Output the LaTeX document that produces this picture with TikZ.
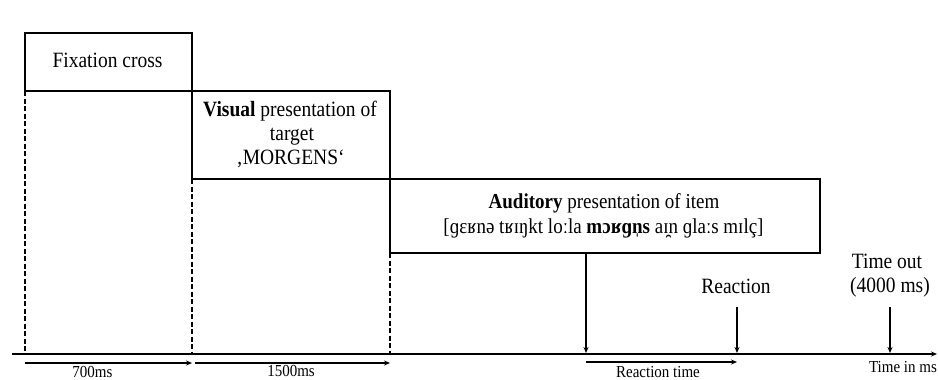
\documentclass[tikz,border=0pt]{standalone}
\usepackage{fontspec}
\usepackage{graphicx}
\setmainfont{Liberation Serif}
\usetikzlibrary{arrows.meta}
\newcommand\vst[1]{\scalebox{1}[1.12]{#1}}
\begin{document}
\begin{tikzpicture}[x=1pt,y=-1pt,
  box/.style={draw,line width=1.3pt},
  dashline/.style={draw,line width=1.4pt,dash pattern=on 5pt off 2.5pt},
  arr/.style={draw,line width=1.4pt,-{Stealth[length=6pt,width=5pt]}},
  big/.style={font=\fontsize{19.5}{22}\selectfont,inner sep=0pt,anchor=base},
  mid/.style={font=\fontsize{19}{22}\selectfont,inner sep=0pt,anchor=base},
  small/.style={font=\fontsize{15}{17}\selectfont,inner sep=0pt,anchor=base}]
\useasboundingbox (0,0) rectangle (938,380);
% boxes
\draw[box] (25,33) rectangle (192,91);
\node[big] (fix) at (107.5,67) {\vst{Fixation cross}};
\draw[box] (192,91) rectangle (390,179);
\node[big] (vis1) at (290,116) {\vst{\textbf{Visual} presentation of}};
\node[big] (vis2) at (292,140) {\vst{target}};
\node[big] (vis3) at (290.5,164) {\vst{‚MORGENS‘}};
\draw[box] (390,179) rectangle (820,253);
\node[mid] (aud1) at (604,208) {\vst{\textbf{Auditory} presentation of item}};
\node[mid] (aud2) at (603.5,233) {\vst{[ɡɛʁnə tʁɪŋkt loːla \textbf{mɔʁɡn̩s} aɪ̯n ɡlaːs mɪlç]}};
% coordinates
\coordinate (a0) at (12,354);
\coordinate (a1) at (937,354);
\coordinate (d1t) at (25,91);   \coordinate (d1b) at (25,354);
\coordinate (d2t) at (192,179); \coordinate (d2b) at (192,354);
\coordinate (d3t) at (390,253); \coordinate (d3b) at (390,354);
\draw[dashline] (d1t) -- (d1b);
\draw[dashline] (d2t) -- (d2b);
\draw[dashline] (d3t) -- (d3b);
% axis
\draw[arr] (a0) -- (a1);
% vertical arrows
\coordinate (v1t) at (586,253); \coordinate (v1b) at (586,353);
\draw[arr] (v1t) -- (v1b);
\node[big] (react) at (736,293) {\vst{Reaction}};
\coordinate (v2t) at (737,307); \coordinate (v2b) at (737,353);
\draw[arr] (v2t) -- (v2b);
\node[big] (tout1) at (887,268) {\vst{Time out}};
\node[big] (tout2) at (890,292) {\vst{(4000 ms)}};
\coordinate (v3t) at (890,307); \coordinate (v3b) at (890,353);
\draw[arr] (v3t) -- (v3b);
% duration arrows
\coordinate (h1a) at (25,363); \coordinate (h1b) at (192,363);
\coordinate (h2a) at (195,363); \coordinate (h2b) at (390,363);
\coordinate (h3a) at (586,362); \coordinate (h3b) at (737,362);
\draw[arr] (h1a) -- (h1b);
\draw[arr] (h2a) -- (h2b);
\draw[arr] (h3a) -- (h3b);
\node[small] (l1) at (92.5,377.5) {\vst{700ms}};
\node[small] (l2) at (291,376.5) {\vst{1500ms}};
\node[small] (l3) at (658,377) {\vst{Reaction time}};
\node[small] (l4) at (903,372.5) {\vst{Time in ms}};
\end{tikzpicture}
\end{document}
